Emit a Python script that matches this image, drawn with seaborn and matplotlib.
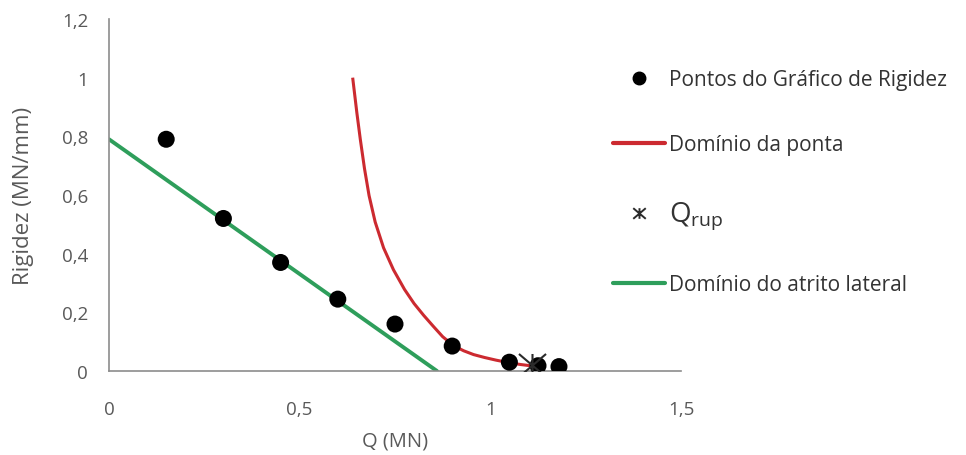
import matplotlib
matplotlib.use("Agg")
import matplotlib.pyplot as plt
from matplotlib.path import Path
from matplotlib.lines import Line2D
from matplotlib.ticker import FuncFormatter, FixedLocator
import seaborn as sns
import pandas as pd

# Stiffness-chart points (load Q in MN, stiffness in MN/mm)
points_q = [0.15, 0.30, 0.45, 0.60, 0.75, 0.90, 1.05, 1.125, 1.18]
points_r = [0.79, 0.52, 0.37, 0.245, 0.16, 0.085, 0.03, 0.018, 0.015]

# Tip-domain curve
tip_q = [0.639, 0.650, 0.659, 0.670, 0.682, 0.698, 0.720, 0.746, 0.775,
         0.800, 0.825, 0.850, 0.875, 0.904, 0.930, 0.956, 0.985, 1.015,
         1.050, 1.080, 1.105]
tip_r = [1.000, 0.880, 0.790, 0.690, 0.598, 0.508, 0.420, 0.345, 0.278,
         0.230, 0.190, 0.153, 0.117, 0.086, 0.069, 0.056, 0.046, 0.037,
         0.028, 0.022, 0.018]

# Side-friction domain line
side_q = [0.0, 0.86]
side_r = [0.79, 0.0]

# Ultimate load
rup_q = [1.11]
rup_r = [0.022]

x_ticks = [0, 0.5, 1, 1.5]
y_ticks = [0, 0.2, 0.4, 0.6, 0.8, 1.0, 1.2]

labels = ["Pontos do Gráfico de Rigidez", "Domínio da ponta",
          r"Q$_{\mathregular{rup}}$", "Domínio do atrito lateral"]

RED = "#CC2A30"
GREEN = "#2E9E5B"
AXIS_GRAY = "#8C8C8C"
TEXT_GRAY = "#595959"
STAR = "#2b2b2b"

sns.set_theme(style="white")
plt.rcParams["font.family"] = ["Open Sans", "DejaVu Sans"]

# asterisk marker: an X crossed by a vertical bar
asterisk = Path(
    [(0, -0.85), (0, 0.85), (-1, -0.85), (1, 0.85), (-1, 0.85), (1, -0.85)],
    [Path.MOVETO, Path.LINETO, Path.MOVETO, Path.LINETO, Path.MOVETO, Path.LINETO],
)

fig = plt.figure(figsize=(9.66, 4.56), dpi=100)
ax = fig.add_axes([109 / 966, 1 - 372 / 456, (681 - 109) / 966, (372 - 20) / 456])

side_df = pd.DataFrame({"Q": side_q, "R": side_r})
tip_df = pd.DataFrame({"Q": tip_q, "R": tip_r})
pts_df = pd.DataFrame({"Q": points_q, "R": points_r})
rup_df = pd.DataFrame({"Q": rup_q, "R": rup_r})

sns.lineplot(data=side_df, x="Q", y="R", ax=ax, color=GREEN, lw=2.8,
             sort=False, estimator=None, zorder=2)
sns.lineplot(data=tip_df, x="Q", y="R", ax=ax, color=RED, lw=2.2,
             sort=False, estimator=None, zorder=2,
             solid_joinstyle="round", solid_capstyle="butt")
sns.scatterplot(data=pts_df, x="Q", y="R", ax=ax, color="black", s=150,
                edgecolor="none", zorder=4)
sns.scatterplot(data=rup_df, x="Q", y="R", ax=ax, marker=asterisk, s=380,
                color=STAR, edgecolor=STAR, linewidth=1.5, zorder=5)

ax.set_xlim(0, 1.5)
ax.set_ylim(0, 1.2)
ax.xaxis.set_major_locator(FixedLocator(x_ticks))
ax.yaxis.set_major_locator(FixedLocator(y_ticks))


def comma(v, _pos):
    s = f"{v:.1f}".rstrip("0").rstrip(".")
    return s.replace(".", ",")


ax.xaxis.set_major_formatter(FuncFormatter(comma))
ax.yaxis.set_major_formatter(FuncFormatter(comma))

for side in ("top", "right"):
    ax.spines[side].set_visible(False)
for side in ("left", "bottom"):
    ax.spines[side].set_color(AXIS_GRAY)
    ax.spines[side].set_linewidth(1.2)

ax.tick_params(axis="both", which="major", direction="out", length=5,
               width=1.0, color=AXIS_GRAY, labelcolor=TEXT_GRAY, labelsize=13.5)
ax.tick_params(axis="x", pad=16)
ax.tick_params(axis="y", pad=10)

ax.set_xlabel("Q (MN)", fontsize=14.5, color=TEXT_GRAY, labelpad=9)
ax.set_ylabel("Rigidez (MN/mm)", fontsize=16, color=TEXT_GRAY, labelpad=20)

handles = [
    Line2D([], [], ls="none", marker="o", ms=9, color="black"),
    Line2D([], [], color=RED, lw=3),
    Line2D([], [], ls="none", marker=asterisk, ms=9, color=STAR, mew=1.4),
    Line2D([], [], color=GREEN, lw=3),
]
leg = fig.legend(handles, labels, loc="upper left",
                 bbox_to_anchor=(605 / 966, 1 - 62 / 456), frameon=False,
                 fontsize=15, labelspacing=2.1, handlelength=2.5,
                 handletextpad=0.15, borderaxespad=0)
for t in leg.get_texts():
    t.set_color("#333333")
leg.get_texts()[2].set_fontsize(20)

fig.savefig("out.png", dpi=100)
